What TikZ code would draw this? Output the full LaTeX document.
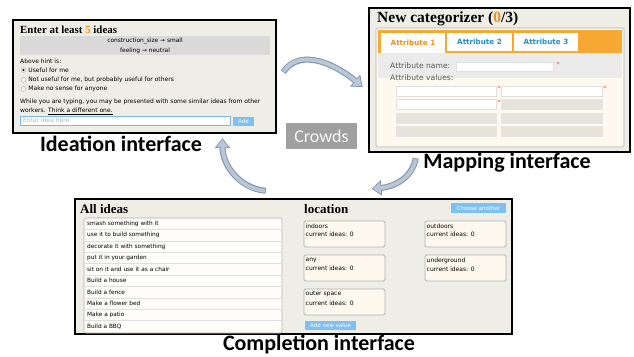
\documentclass[tikz,border=0pt]{standalone}
\usepackage{fontspec}
\setmainfont{Liberation Serif}
\setsansfont{DejaVu Sans}
\newfontfamily\labelfont{Carlito}
\usetikzlibrary{arrows.meta, positioning, calc}
\definecolor{panelbg}{RGB}{238,237,230}
\definecolor{hintgray}{RGB}{218,218,218}
\definecolor{btnblue}{RGB}{124,192,244}
\definecolor{fieldblue}{RGB}{125,185,232}
\definecolor{taborange}{RGB}{246,168,50}
\definecolor{numorange}{RGB}{240,140,30}
\definecolor{tabblue}{RGB}{30,144,208}
\definecolor{cream}{RGB}{253,249,239}
\definecolor{valgray}{RGB}{230,228,218}
\definecolor{bandgray}{RGB}{235,235,235}
\definecolor{arrowfill}{RGB}{184,198,214}
\definecolor{arrowedge}{RGB}{128,146,168}
\definecolor{crowdsgray}{RGB}{160,160,160}

\begin{document}
\begin{tikzpicture}[x=1pt, y=1pt,
    panel/.style={draw=black, line width=2.4pt, fill=panelbg, inner sep=0pt},
    plain/.style={inner sep=0pt, outer sep=0pt},
    ui/.style={font=\sffamily\fontsize{6}{7}\selectfont, anchor=west, inner sep=0pt},
    uimid/.style={font=\sffamily\fontsize{5.9}{7}\selectfont, inner sep=0pt},
    head/.style={font=\bfseries\fontsize{10.9}{12}\selectfont, anchor=west, inner sep=0pt},
    caption/.style={font=\labelfont\bfseries\fontsize{22}{26}\selectfont, inner sep=0pt},
    btn/.style={fill=btnblue, text=white, font=\sffamily\fontsize{5.5}{6}\selectfont, inner sep=0pt},
    radio/.style={circle, draw=gray!60, fill=white!90!gray, minimum size=5pt, inner sep=0pt, line width=0.4pt},
    tab/.style={fill=white, inner sep=0pt, font=\sffamily\bfseries\fontsize{7.2}{8}\selectfont},
    valfield/.style={plain, minimum width=100pt, minimum height=10pt, fill=white, draw=gray!25, line width=0.4pt},
    emptyfield/.style={plain, minimum width=100pt, minimum height=10pt, fill=valgray, draw=gray!20, line width=0.4pt},
    star/.style={text=red!80, font=\sffamily\fontsize{6}{7}\selectfont, inner sep=0pt},
    valbox/.style={plain, draw=gray!60, line width=0.8pt, rounded corners=1.5pt, fill=cream, minimum width=81pt, minimum height=26pt},
    idea/.style={ui, font=\sffamily\fontsize{5.8}{7}\selectfont},
    maplabel/.style={ui, text=gray!70!black, font=\sffamily\fontsize{7.6}{9}\selectfont},
    crowdsbox/.style={fill=crowdsgray, text=white!92!gray, font=\labelfont\fontsize{18}{20}\selectfont, minimum width=71pt, minimum height=26pt, inner sep=0pt},
    flow/.style={line width=6pt, draw=arrowedge, -{Triangle[length=10pt, width=15pt]},
      postaction={draw=arrowfill, line width=4pt, -{Triangle[length=8pt, width=11.5pt]}, shorten >=1.2pt, shorten <=0.8pt}}
  ]
  \useasboundingbox (0,0) rectangle (634,-356);

  \node[panel, minimum width=263pt, minimum height=113pt] (ideation) at (144.5,-76.5) {};
  \node[head] (idhead) at (20,-29.5) {Enter at least \textcolor{numorange}{5} ideas};
  \node[plain, fill=hintgray, minimum width=250pt, minimum height=19pt] (idband) at (145,-45.5) {};
  \node[uimid] (idhint1) at (145,-41) {construction\_size → small};
  \node[uimid] (idhint2) at (145,-50.5) {feeling → neutral};
  \node[ui] (idabove) at (20,-61) {Above hint is:};
  \node[radio] (idr1) at (23.5,-70) {};
  \fill (idr1.center) circle (1.2pt);
  \node[radio] (idr2) at (23.5,-80) {};
  \node[radio] (idr3) at (23.5,-89) {};
  \node[ui, right=2pt of idr1] (idopt1) {Useful for me};
  \node[ui, right=2pt of idr2] (idopt2) {Not useful for me, but probably useful for others};
  \node[ui, right=2pt of idr3] (idopt3) {Make no sense for anyone};
  \node[ui] (idwhile1) at (20,-102) {While you are typing, you may be presented with some similar ideas from other};
  \node[ui] (idwhile2) at (20,-111) {workers. \underline{Think a different one.}};
  \node[plain, fill=white, draw=fieldblue, line width=0.6pt, minimum width=210pt, minimum height=9pt] (idfield) at (125,-120.5) {};
  \node[ui, text=gray!60] (idplace) at (23,-120.5) {Enter idea here};
  \node[btn, minimum width=21pt, minimum height=9pt] (idadd) at (243.5,-121) {Add};
  \node[caption] (idcaption) at (121,-144) {Ideation interface};

  \node[panel, minimum width=261pt, minimum height=144pt] (mapping) at (499.5,-80) {};
  \node[head, font=\bfseries\fontsize{15.5}{17}\selectfont] (maphead) at (377,-19) {New categorizer (\textcolor{numorange}{0}/3)};
  \node[plain, fill=cream, draw=gray!60, line width=0.6pt, rounded corners=1.5pt, minimum width=248pt, minimum height=119pt] (mapbox) at (500,-87.5) {};
  \node[plain, fill=taborange, minimum width=244pt, minimum height=23pt] (mapbar) at (500,-41.5) {};
  \node[plain, fill=bandgray, minimum width=244pt, minimum height=25pt] (mapband) at (500,-65.5) {};
  \node[tab, text=numorange, minimum width=64pt, minimum height=20pt] (maptab1) at (413,-43) {Attribute 1};
  \node[tab, text=tabblue, minimum width=65pt, minimum height=18pt] (maptab2) at (479.5,-42) {Attribute 2};
  \node[tab, text=tabblue, minimum width=64pt, minimum height=18pt] (maptab3) at (546,-42) {Attribute 3};
  \node[maplabel] (mapname) at (390,-66) {Attribute name:};
  \node[plain, fill=white, draw=gray!25, line width=0.4pt, minimum width=97pt, minimum height=9pt] (mapnamefield) at (504.5,-66.5) {};
  \node[star] (mapstar0) at (558,-64) {*};
  \node[maplabel] (mapvalues) at (390,-78) {Attribute values:};
  \node[valfield] (mapv1) at (446,-91) {};
  \node[valfield, minimum width=101pt] (mapv2) at (551.5,-91) {};
  \node[valfield] (mapv3) at (446,-104.5) {};
  \node[emptyfield, minimum width=101pt] (mapv4) at (551.5,-104.5) {};
  \node[emptyfield] (mapv5) at (446,-118) {};
  \node[emptyfield, minimum width=101pt] (mapv6) at (551.5,-118) {};
  \node[emptyfield] (mapv7) at (446,-131.5) {};
  \node[emptyfield, minimum width=101pt] (mapv8) at (551.5,-131.5) {};
  \node[star] (mapstar1) at (499,-88.5) {*};
  \node[star] (mapstar2) at (605,-88.5) {*};
  \node[star] (mapstar3) at (499,-102) {*};
  \node[caption] (mapcaption) at (507,-163) {Mapping interface};

  \node[panel, minimum width=437pt, minimum height=135pt] (completion) at (293.5,-266.5) {};
  \node[head, font=\bfseries\fontsize{13}{15}\selectfont] (comphead) at (80,-209.5) {All ideas};
  \node[plain, fill=white!60!cream, draw=gray!60, line width=0.6pt, rounded corners=1.5pt, minimum width=198pt, minimum height=115pt] (complist) at (183,-275.5) {};
  \draw[gray!25, line width=0.5pt] (84,-229.4) -- (282,-229.4) (84,-240.8) -- (282,-240.8) (84,-252.2) -- (282,-252.2)
    (84,-263.6) -- (282,-263.6) (84,-275) -- (282,-275) (84,-286.4) -- (282,-286.4) (84,-297.8) -- (282,-297.8)
    (84,-309.2) -- (282,-309.2) (84,-320.6) -- (282,-320.6);
  \node[idea] (compi1) at (87,-223.7) {smash something with it};
  \node[idea] (compi2) at (87,-235.1) {use it to build something};
  \node[idea] (compi3) at (87,-246.5) {decorate it with something};
  \node[idea] (compi4) at (87,-257.9) {put it in your garden};
  \node[idea] (compi5) at (87,-269.3) {sit on it and use it as a chair};
  \node[idea] (compi6) at (87,-280.7) {Build a house};
  \node[idea] (compi7) at (87,-292.1) {Build a fence};
  \node[idea] (compi8) at (87,-303.5) {Make a flower bed};
  \node[idea] (compi9) at (87,-314.9) {Make a patio};
  \node[idea] (compi10) at (87,-326.3) {Build a BBQ};
  \node[head, font=\bfseries\fontsize{13}{15}\selectfont] (comploc) at (304,-209.5) {location};
  \node[btn, minimum width=55pt, minimum height=10pt] (compchoose) at (478.5,-208) {Choose another};
  \node[valbox] (compindoors) at (344.5,-234) {};
  \node[valbox] (compoutdoors) at (465.5,-234) {};
  \node[valbox] (company) at (344.5,-268) {};
  \node[valbox] (compunder) at (465.5,-268) {};
  \node[valbox] (compouter) at (344.5,-302) {};
  \node[ui, below right=2.5pt and 1.5pt of compindoors.north west] (compt1) {indoors};
  \node[ui, below=3pt of compt1.south west, anchor=north west] (compc1) {current ideas: 0};
  \node[ui, below right=2.5pt and 1.5pt of compoutdoors.north west] (compt2) {outdoors};
  \node[ui, below=3pt of compt2.south west, anchor=north west] (compc2) {current ideas: 0};
  \node[ui, below right=2.5pt and 1.5pt of company.north west] (compt3) {any};
  \node[ui, below=3pt of compt3.south west, anchor=north west] (compc3) {current ideas: 0};
  \node[ui, below right=2.5pt and 1.5pt of compunder.north west] (compt4) {underground};
  \node[ui, below=3pt of compt4.south west, anchor=north west] (compc4) {current ideas: 0};
  \node[ui, below right=2.5pt and 1.5pt of compouter.north west] (compt5) {outer space};
  \node[ui, below=3pt of compt5.south west, anchor=north west] (compc5) {current ideas: 0};
  \node[btn, minimum width=51pt, minimum height=9pt] (compaddval) at (330.5,-325.5) {Add new value};
  \node[caption] (compcaption) at (319,-344) {Completion interface};

  \node[crowdsbox] (crowds) at (321.5,-136) {Crowds};

  \draw[flow] ($(ideation.east)+(6,4.5)$) to[out=55, in=140] ($(mapping.west)+(-5,-7)$);
  \draw[flow] ($(mapping.south west)+(48,-5)$) to[out=-100, in=5] ($(completion.north)+(78,9)$);
  \draw[flow] ($(completion.north west)+(192,7)$) to[out=175, in=-90] ($(ideation.south)+(78,-4)$);
\end{tikzpicture}
\end{document}
